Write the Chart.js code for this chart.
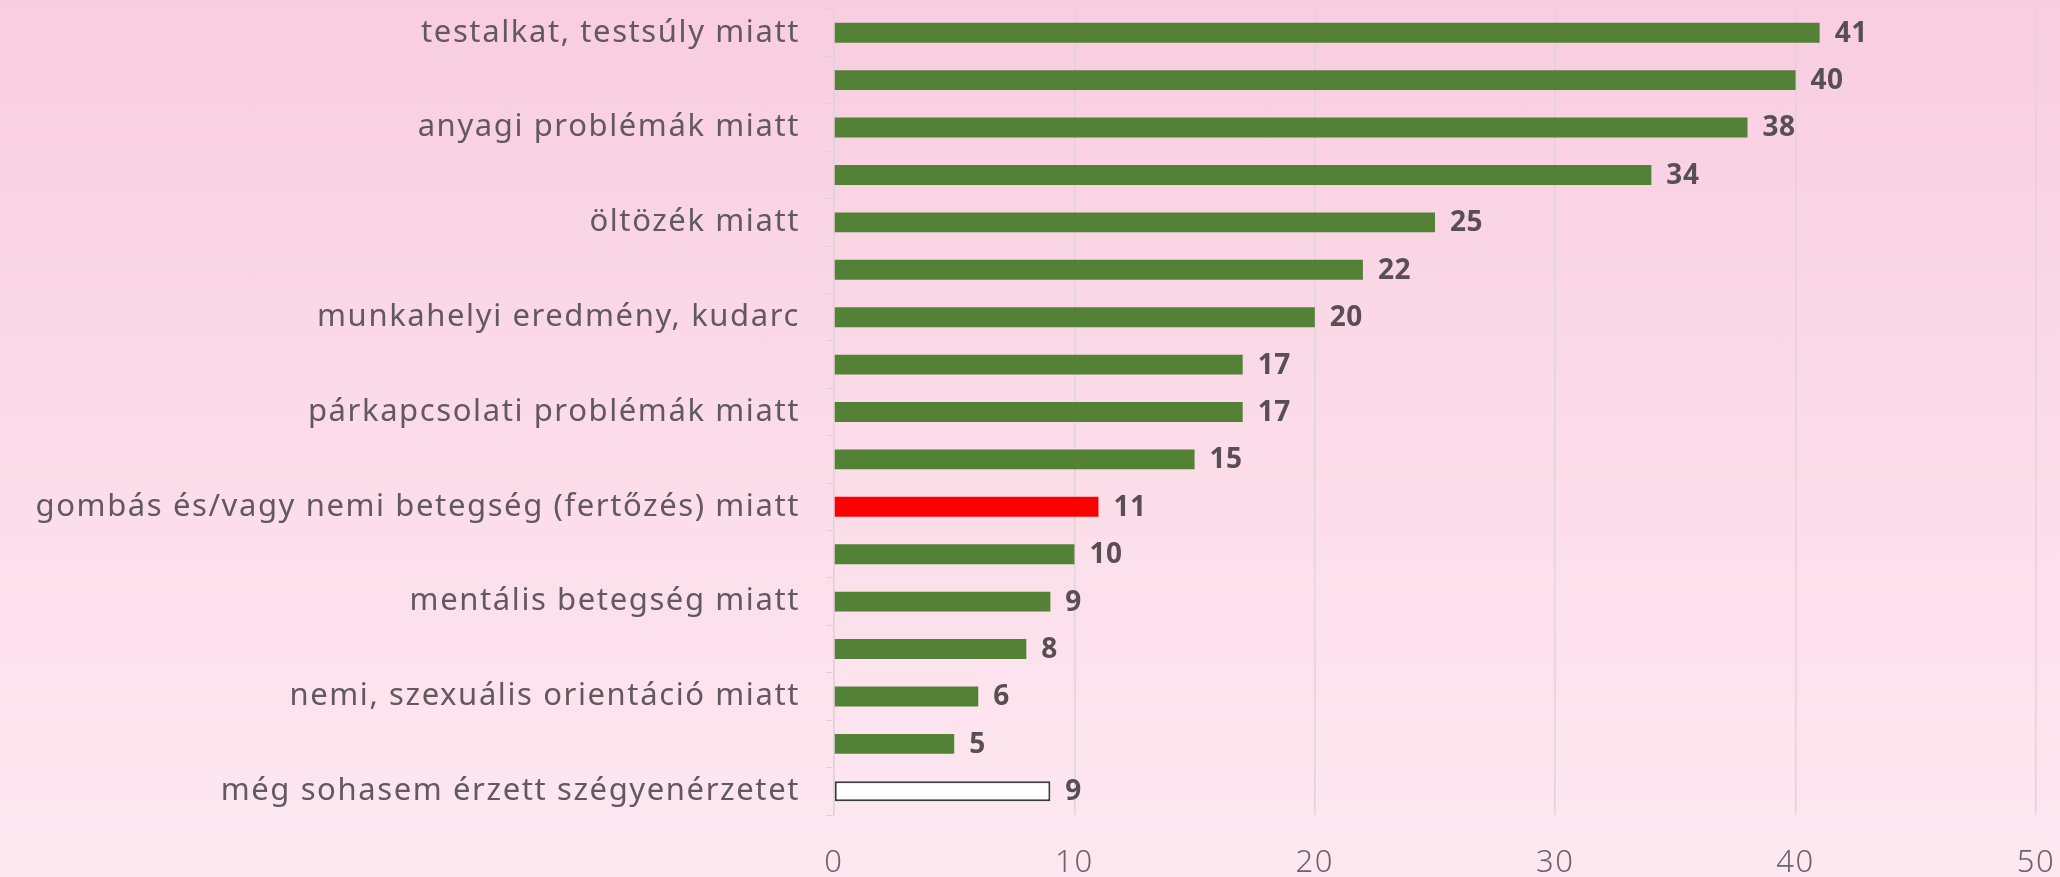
<!DOCTYPE html>
<html>
<head>
<meta charset="utf-8">
<script src="https://cdn.jsdelivr.net/npm/chart.js@4"></script>
<style>
  html, body { margin: 0; padding: 0; }
  body {
    width: 2060px; height: 877px; overflow: hidden;
    background: linear-gradient(180deg, #f8cde0 0%, #fbdce8 50%, #fde8f0 100%);
  }
  canvas { display: block; }
</style>
</head>
<body>
<canvas id="shame" width="2060" height="877"></canvas>
<script>
  // labels for every other row are not shown in the source picture
  const categories = [
    "testalkat, testsúly miatt", "",
    "anyagi problémák miatt", "",
    "öltözék miatt", "",
    "munkahelyi eredmény, kudarc", "",
    "párkapcsolati problémák miatt", "",
    "gombás és/vagy nemi betegség (fertőzés) miatt", "",
    "mentális betegség miatt", "",
    "nemi, szexuális orientáció miatt", "",
    "még sohasem érzett szégyenérzetet",
  ];
  const values = [41, 40, 38, 34, 25, 22, 20, 17, 17, 15, 11, 10, 9, 8, 6, 5, 9];
  const xTicks = [0, 10, 20, 30, 40, 50];

  const green = "#538135";
  const barColors = values.map((v, i) =>
    i === 10 ? "#ff0000" : i === values.length - 1 ? "#ffffff" : green);
  const borderColors = values.map((v, i) =>
    i === values.length - 1 ? "#3d3a3c" : barColors[i]);
  const borderWidths = values.map((v, i) => (i === values.length - 1 ? 2 : 0));

  // the source font is wider than anything installed, so space the letters a bit
  const spacing = {
    id: "spacing",
    beforeLayout(chart) { chart.ctx.letterSpacing = "1.6px"; },
    beforeDraw(chart) { chart.ctx.letterSpacing = "1.6px"; },
  };

  const valueLabels = {
    id: "valueLabels",
    afterDatasetsDraw(chart) {
      const { ctx } = chart;
      const meta = chart.getDatasetMeta(0);
      ctx.save();
      ctx.letterSpacing = "0.5px";
      ctx.font = "bold 28px 'Noto Sans'";
      ctx.fillStyle = "#584e55";
      ctx.textBaseline = "middle";
      meta.data.forEach((bar, i) => {
        ctx.fillText(String(values[i]), bar.x + 15, bar.y + 1);
      });
      ctx.restore();
    },
  };

  new Chart(document.getElementById("shame"), {
    type: "bar",
    data: {
      labels: categories,
      datasets: [
        {
          data: values,
          backgroundColor: barColors,
          borderColor: borderColors,
          borderWidth: borderWidths,
          borderSkipped: false,
          barPercentage: 0.84,
          categoryPercentage: 0.5,
        },
      ],
    },
    options: {
      indexAxis: "y",
      responsive: false,
      animation: false,
      devicePixelRatio: 1,
      layout: { padding: { top: 9, right: 24, bottom: 0, left: 0 } },
      plugins: {
        legend: { display: false },
        tooltip: { enabled: false },
      },
      scales: {
        x: {
          min: 0,
          max: 50,
          afterBuildTicks: (axis) => {
            axis.ticks = xTicks.map((v) => ({ value: v }));
          },
          afterFit: (scale) => {
            scale.paddingLeft = 0;
            scale.paddingRight = 0;
            scale.height = 62;
          },
          grid: { color: "#e2d2da", lineWidth: 1.5, drawTicks: false },
          border: { display: false },
          ticks: {
            padding: 30,
            color: "#6b6369",
            font: { family: "Noto Sans", size: 31, weight: "300" },
          },
        },
        y: {
          afterFit: (scale) => {
            scale.paddingTop = 0;
            scale.paddingBottom = 0;
            scale.width = 834;
          },
          grid: {
            offset: true,
            drawOnChartArea: false,
            drawTicks: true,
            tickLength: 8,
            color: "#e0d0d8",
          },
          border: { color: "#e2d2da", width: 1.5 },
          ticks: {
            autoSkip: false,
            padding: 26,
            color: "#62585f",
            font: { family: "Noto Sans", size: 31, weight: "400" },
          },
        },
      },
    },
    plugins: [spacing, valueLabels],
  });
</script>
</body>
</html>
